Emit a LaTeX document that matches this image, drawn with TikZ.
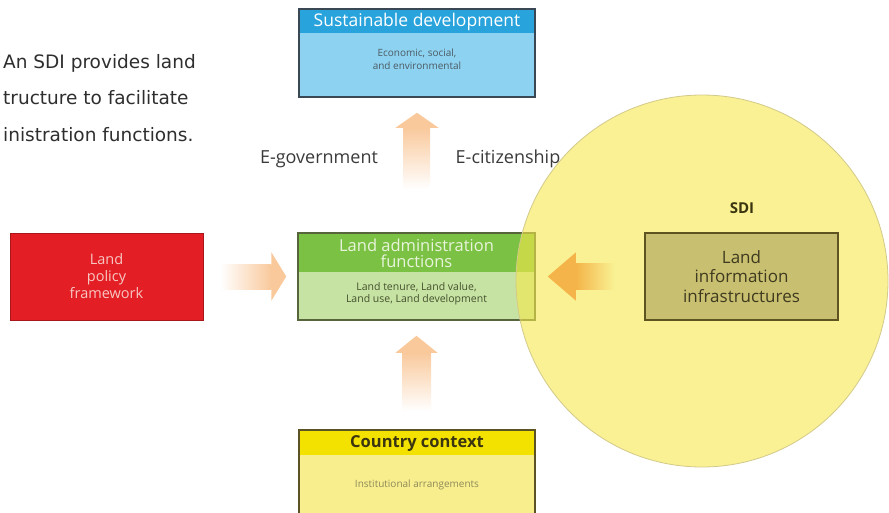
\documentclass[tikz,border=0pt]{standalone}
\usepackage{fontspec}
\setmainfont{Open Sans}
\newfontfamily\notefont{DejaVu Sans}
\usepackage{tikz}
\usetikzlibrary{positioning,calc}
\definecolor{textgray}{HTML}{2E2E2E}
\definecolor{labelgray}{HTML}{3A3A3A}
\definecolor{policyred}{HTML}{E31E25}
\definecolor{policyline}{HTML}{A8171C}
\definecolor{policytext}{HTML}{F7C7C2}
\definecolor{skyhead}{HTML}{29A3DC}
\definecolor{skybody}{HTML}{8DD3F1}
\definecolor{skyline}{HTML}{394854}
\definecolor{skytext}{HTML}{4C5A62}
\definecolor{leafhead}{HTML}{7BC144}
\definecolor{leafbody}{HTML}{C7E3A3}
\definecolor{leafline}{HTML}{56653C}
\definecolor{leaftext}{HTML}{E9F4DC}
\definecolor{leafdark}{HTML}{44512E}
\definecolor{sunhead}{HTML}{F3E100}
\definecolor{sunbody}{HTML}{F8EE8E}
\definecolor{sunline}{HTML}{5B5326}
\definecolor{sundark}{HTML}{3A3510}
\definecolor{sunmuted}{HTML}{8E8A58}
\definecolor{sdifill}{HTML}{F5E84B}
\definecolor{sdiback}{HTML}{F9F193}
\definecolor{sdiline}{HTML}{D3C98A}
\definecolor{olivefill}{HTML}{C9BF70}
\definecolor{oliveline}{HTML}{5E5421}
\definecolor{olivetext}{HTML}{3E3A1F}
\definecolor{peach}{HTML}{F9C99C}
\definecolor{amber}{HTML}{F4B449}

\begin{document}
\begin{tikzpicture}[x=1pt,y=-1pt,
  box/.style={draw=#1,line width=1.5pt,inner sep=0pt},
  topband/.style n args={2}{path picture={\fill[#1] (path picture bounding box.north west)
      rectangle ([yshift=-#2]path picture bounding box.north east);}},
  hdtext/.style={font=\fontsize{17.5}{18}\selectfont,align=center,inner sep=0pt},
  smalltext/.style={font=\fontsize{10}{12.5}\selectfont,align=center,inner sep=0pt},
  notetext/.style={font=\notefont\fontsize{18.5}{20}\selectfont,text=textgray,
    anchor=base west,inner sep=0pt}]

  \useasboundingbox (0,0) rectangle (889,512);
  \clip (0,0) rectangle (889,512);

  %,  Caption lines, 
  \node[notetext] (note1) at (3,68) {An SDI provides land};
  \node[notetext] (note2) at (3,104.5) {tructure to facilitate};
  \node[notetext] (note3) at (3,141) {inistration functions.};

  %,  Boxes, 
  \node[box=policyline,fill=policyred,line width=1pt,minimum width=193pt,
    minimum height=87pt] (policy) at (106.5,276.5) {};
  \node[hdtext,text=policytext,font=\fontsize{14.5}{17}\selectfont]
    (policytxt) at (policy) {Land\\policy\\framework};

  \node[box=skyline,fill=skybody,topband={skyhead}{24pt},minimum width=236pt,
    minimum height=88pt] (sustain) at (417,53) {};
  \node[hdtext,text=white] (sustainhead) at (417,22) {Sustainable development};
  \node[smalltext,text=skytext] (sustainbody) at (417,59)
    {Economic, social,\\and environmental};

  \node[box=leafline,fill=leafbody,topband={leafhead}{39pt},minimum width=237pt,
    minimum height=87pt] (landadmin) at (416.5,276.5) {};
  \node[hdtext,text=leaftext,font=\fontsize{16.5}{16}\selectfont]
    (landadminhead) at (416.5,253.5) {Land administration\\functions};
  \node[smalltext,text=leafdark,font=\fontsize{10.5}{12.5}\selectfont]
    (landadminbody) at (416.5,294) {Land tenure, Land value,\\Land use, Land development};

  \node[box=sunline,fill=sunbody,topband={sunhead}{25pt},minimum width=236pt,
    minimum height=100pt] (country) at (417,480) {};
  \node[hdtext,text=sundark,font=\bfseries\fontsize{16.5}{18}\selectfont]
    (countryhead) at (417,443) {Country context};
  \node[smalltext,text=sunmuted] (countrybody) at (417,485) {Institutional arrangements};

  %,  SDI circle, 
  \node[circle,minimum size=372pt,inner sep=0pt,fill=sdifill,fill opacity=0.6,
    draw=sdiline,line width=0.8pt] (sdi) at (702,281) {};
  \node[text=sundark,font=\bfseries\fontsize{15}{17}\selectfont] (sdilabel)
    at (742,208) {SDI};
  \node[box=oliveline,fill=olivefill,line width=1.8pt,minimum width=193pt,
    minimum height=87pt] (lii) at (741.5,276.5) {};
  \node[hdtext,text=olivetext,font=\fontsize{17}{19.5}\selectfont] (liitxt)
    at (lii) {Land\\information\\infrastructures};

  %,  Arrows, 
  \coordinate (policytip) at ($(landadmin.west)+(-11,0)$);
  \shade[left color=white,right color=peach]
    ($(policy.east)+(17,-12.5)$) rectangle ($(policytip)+(-15,12.5)$);
  \fill[peach] (policytip) -- ++(-15,-24.5) -- ++(0,49) -- cycle;

  \coordinate (liitip) at ($(landadmin.east)+(12,0)$);
  \shade[left color=amber,middle color=amber,right color=sdiback]
    ($(liitip)+(28,-13)$) rectangle ($(lii.west)+(-30,13)$);
  \fill[amber] (liitip) -- ++(28,-24) -- ++(0,48) -- cycle;

  \coordinate (sustaintip) at ($(sustain.south)+(0,15)$);
  \shade[top color=peach,bottom color=white]
    ($(sustaintip)+(-13.5,15)$) rectangle ($(landadmin.north)+(13.5,-43)$);
  \fill[peach] (sustaintip) -- ++(-21.5,15) -- ++(43,0) -- cycle;

  \coordinate (landtip) at ($(landadmin.south)+(0,15)$);
  \shade[top color=peach,bottom color=white]
    ($(landtip)+(-14,17)$) rectangle ($(country.north)+(14,-18)$);
  \fill[peach] (landtip) -- ++(-21,17) -- ++(42,0) -- cycle;

  %,  Labels, 
  \node[text=labelgray,font=\fontsize{18}{20}\selectfont] (egov) at (319,159) {E-government};
  \node[text=labelgray,font=\fontsize{18}{20}\selectfont] (ecit) at (508,159) {E-citizenship};

\end{tikzpicture}
\end{document}
